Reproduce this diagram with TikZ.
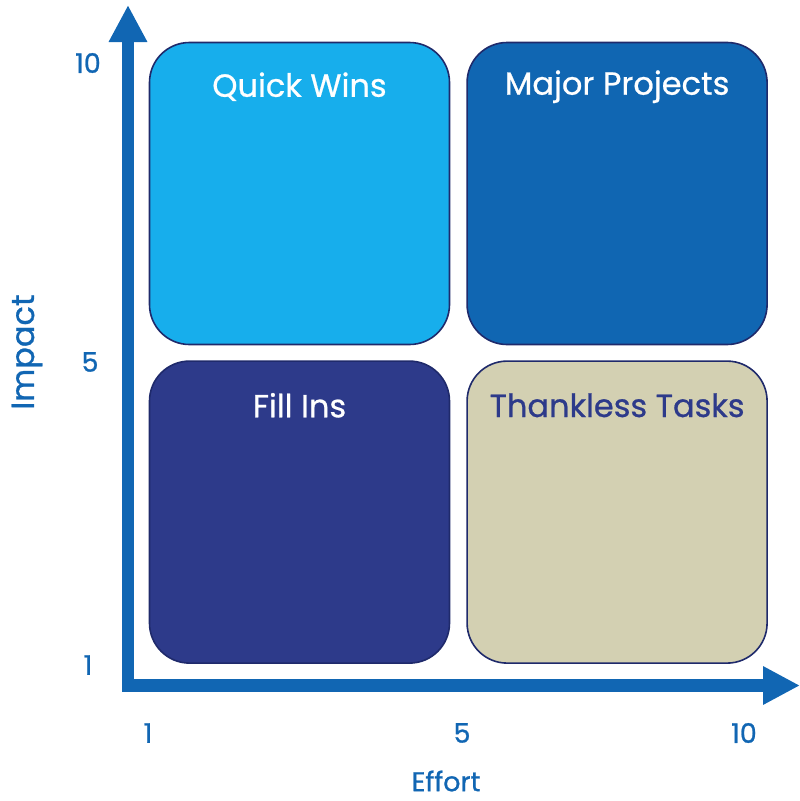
\documentclass[tikz,border=0pt]{standalone}
\usepackage{fontspec}
\setmainfont{Poppins}
\usepackage{xcolor}
\usetikzlibrary{positioning,calc,arrows.meta}
\definecolor{axisblue}{HTML}{1166B3}
\definecolor{quickcol}{HTML}{17AEEC}
\definecolor{majorcol}{HTML}{1066B2}
\definecolor{fillcol}{HTML}{2D3A8A}
\definecolor{thankcol}{HTML}{D3D0B2}
\definecolor{edgecol}{HTML}{1F2A6B}
\tikzset{
    quad/.style={draw=edgecol, line width=1.6pt, rounded corners=40pt,
        minimum width=300pt, minimum height=302pt, inner sep=0pt},
    title/.style={font=\fontsize{32}{36}\selectfont\addfontfeature{FakeBold=0.7},
        text=white, inner sep=0pt},
    tick/.style={font=\fontsize{27}{30}\selectfont\addfontfeature{FakeBold=0.9},
        text=axisblue, inner sep=0pt},
    axis/.style={draw=axisblue, line width=12.5pt,
        -{Triangle[length=37pt, width=36pt]}}
}
\begin{document}
\begin{tikzpicture}[x=1pt, y=-1pt]
    \useasboundingbox (0,0) rectangle (800,801);
    % quadrants
    \node[quad, fill=quickcol] (quick) at (299.5,193.5) {};
    \node[quad, fill=majorcol, right=16pt of quick] (major) {};
    \node[quad, fill=fillcol, below=15pt of quick] (fillins) {};
    \node[quad, fill=thankcol, right=16pt of fillins] (thank) {};
    \node[title] at ([yshift=-45pt]quick.north) {Quick Wins};
    \node[title] at ([yshift=-45pt]major.north) {Major Projects};
    \node[title] at ([yshift=-45pt]fillins.north) {Fill Ins};
    \node[title, text=fillcol] at ([yshift=-45pt]thank.north) {Thankless Tasks};
    % axes
    \coordinate (origin) at (128,685.5);
    \coordinate (ytip) at (128,5);
    \coordinate (xtip) at (800,685.5);
    \draw[axis] ([yshift=6.5pt]origin) -- (ytip);
    \draw[axis] ([xshift=-6pt]origin) -- (xtip);
    % ticks
    \node[tick] (y10) at (88,63) {10};
    \node[tick] (y5) at (90,362) {5};
    \node[tick] (y1) at (88,665) {1};
    \node[tick] (x1) at (148,733) {1};
    \node[tick] (x5) at (462,733) {5};
    \node[tick] (x10) at (744,733) {10};
    \node[tick] (effort) at (446,781) {Effort};
    \node[tick, rotate=90, font=\fontsize{32}{36}\selectfont\addfontfeature{FakeBold=0.9}]
        (impact) at (27,352) {Impact};
\end{tikzpicture}
\end{document}
